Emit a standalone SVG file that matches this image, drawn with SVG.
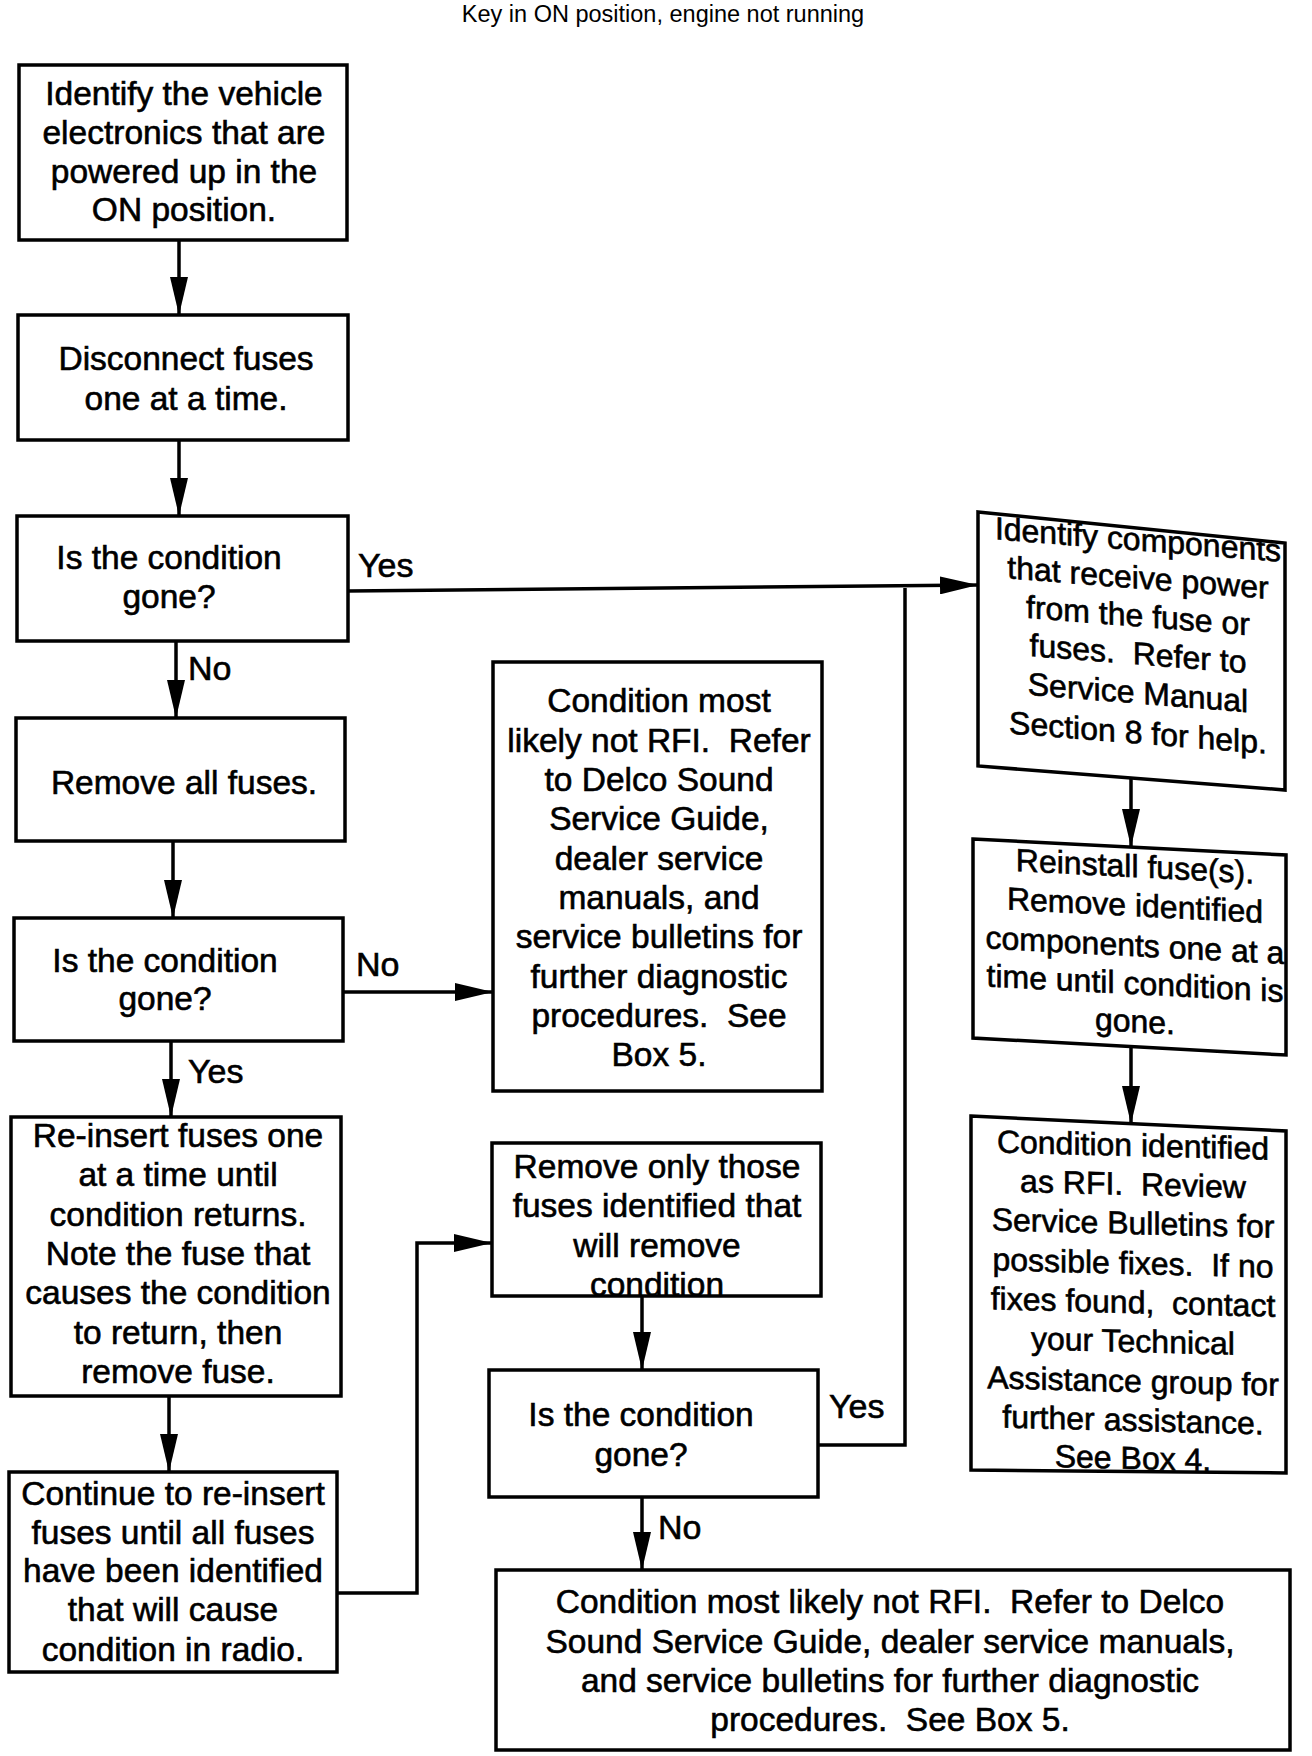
<svg xmlns="http://www.w3.org/2000/svg" width="1312" height="1756" viewBox="0 0 1312 1756">
<style>
.box{fill:#fff;stroke:#000;stroke-width:3.5}
.t{font-family:"Liberation Sans",Arial,Helvetica,sans-serif;font-size:33.5px;text-anchor:middle;fill:#000;stroke:#000;stroke-width:0.6}
.r{font-size:32px}
.lbl{font-family:"Liberation Sans",Arial,Helvetica,sans-serif;font-size:34px;fill:#000;stroke:#000;stroke-width:0.6}
.ttl{font-family:"Liberation Sans",Arial,Helvetica,sans-serif;font-size:23.5px;text-anchor:middle;fill:#000}
.c{fill:none;stroke:#000;stroke-width:3.5}
.ca{fill:none;stroke:#000;stroke-width:3.5;marker-end:url(#ah)}
</style>
<defs>
<marker id="ah" markerUnits="userSpaceOnUse" markerWidth="38" markerHeight="18" refX="38" refY="9" orient="auto" viewBox="0 0 38 18">
<path d="M0,0 L38,9 L0,18 z" fill="#000"/>
</marker>
</defs>
<rect width="1312" height="1756" fill="#fff"/>
<text class="ttl" x="663" y="22">Key in ON position, engine not running</text>

<g id="connectors">
<line class="ca" x1="179" y1="240" x2="179" y2="315"/>
<line class="ca" x1="179" y1="440" x2="179" y2="516"/>
<line class="ca" x1="176" y1="641" x2="176" y2="718"/>
<line class="ca" x1="173" y1="841" x2="173" y2="918"/>
<line class="ca" x1="171" y1="1041" x2="171" y2="1117"/>
<line class="ca" x1="169" y1="1396" x2="169" y2="1472"/>
<line class="ca" x1="348" y1="591" x2="978" y2="585"/>
<line class="ca" x1="343" y1="992" x2="493" y2="992"/>
<polyline class="ca" points="337,1593 417,1593 417,1243 492,1243"/>
<line class="ca" x1="642" y1="1296" x2="642" y2="1370"/>
<polyline class="c" points="818,1445 905,1445 905,588"/>
<line class="ca" x1="642" y1="1497" x2="642" y2="1570"/>
<line class="ca" x1="1131" y1="778" x2="1131" y2="847"/>
<line class="ca" x1="1131" y1="1047" x2="1131" y2="1124"/>
<text class="lbl" x="358" y="577">Yes</text>
<text class="lbl" x="188" y="680">No</text>
<text class="lbl" x="356" y="976">No</text>
<text class="lbl" x="188" y="1083">Yes</text>
<text class="lbl" x="829" y="1418">Yes</text>
<text class="lbl" x="658" y="1539">No</text>
</g>

<g id="n1">
<rect class="box" x="19" y="65" width="328" height="175"/>
<text class="t"><tspan x="184" y="105">Identify the vehicle</tspan><tspan x="184" y="144">electronics that are</tspan><tspan x="184" y="183">powered up in the</tspan><tspan x="184" y="221">ON position.</tspan></text>
</g>
<g id="n2">
<rect class="box" x="18" y="315" width="330" height="125"/>
<text class="t"><tspan x="186" y="370">Disconnect fuses</tspan><tspan x="186" y="410">one at a time.</tspan></text>
</g>
<g id="n3">
<rect class="box" x="17" y="516" width="331" height="125"/>
<text class="t"><tspan x="169" y="569">Is the condition</tspan><tspan x="169" y="608">gone?</tspan></text>
</g>
<g id="n4">
<rect class="box" x="16" y="718" width="329" height="123"/>
<text class="t" x="184" y="794">Remove all fuses.</text>
</g>
<g id="n5">
<rect class="box" x="14" y="918" width="329" height="123"/>
<text class="t"><tspan x="165" y="972">Is the condition</tspan><tspan x="165" y="1010">gone?</tspan></text>
</g>
<g id="n6">
<rect class="box" x="11" y="1117" width="330" height="279"/>
<text class="t"><tspan x="178" y="1147">Re-insert fuses one</tspan><tspan x="178" y="1186">at a time until</tspan><tspan x="178" y="1226">condition returns.</tspan><tspan x="178" y="1265">Note the fuse that</tspan><tspan x="178" y="1304">causes the condition</tspan><tspan x="178" y="1344">to return, then</tspan><tspan x="178" y="1383">remove fuse.</tspan></text>
</g>
<g id="n7">
<rect class="box" x="9" y="1472" width="328" height="200"/>
<text class="t"><tspan x="173" y="1505">Continue to re-insert</tspan><tspan x="173" y="1544">fuses until all fuses</tspan><tspan x="173" y="1582">have been identified</tspan><tspan x="173" y="1621">that will cause</tspan><tspan x="173" y="1661">condition in radio.</tspan></text>
</g>
<g id="n8">
<rect class="box" x="493" y="662" width="329" height="429"/>
<text class="t" xml:space="preserve"><tspan x="659" y="712">Condition most</tspan><tspan x="659" y="752">likely not RFI.  Refer</tspan><tspan x="659" y="791">to Delco Sound</tspan><tspan x="659" y="830">Service Guide,</tspan><tspan x="659" y="870">dealer service</tspan><tspan x="659" y="909">manuals, and</tspan><tspan x="659" y="948">service bulletins for</tspan><tspan x="659" y="988">further diagnostic</tspan><tspan x="659" y="1027">procedures.  See</tspan><tspan x="659" y="1066">Box 5.</tspan></text>
</g>
<g id="n9">
<rect class="box" x="492" y="1143" width="329" height="153"/>
<text class="t"><tspan x="657" y="1178">Remove only those</tspan><tspan x="657" y="1217">fuses identified that</tspan><tspan x="657" y="1257">will remove</tspan><tspan x="657" y="1296">condition</tspan></text>
</g>
<g id="n10">
<rect class="box" x="489" y="1370" width="329" height="127"/>
<text class="t"><tspan x="641" y="1426">Is the condition</tspan><tspan x="641" y="1466">gone?</tspan></text>
</g>
<g id="n11">
<rect class="box" x="496" y="1570" width="794" height="180"/>
<text class="t" xml:space="preserve"><tspan x="890" y="1613">Condition most likely not RFI.  Refer to Delco</tspan><tspan x="890" y="1653">Sound Service Guide, dealer service manuals,</tspan><tspan x="890" y="1692">and service bulletins for further diagnostic</tspan><tspan x="890" y="1731">procedures.  See Box 5.</tspan></text>
</g>
<g id="n12">
<polygon class="box" points="978,512 1285,543 1285,790 978,766"/>
<text class="t r" xml:space="preserve" transform="translate(1131,650) skewY(4.5) translate(-1131,-650)"><tspan x="1138" y="550">Identify components</tspan><tspan x="1138" y="588">that receive power</tspan><tspan x="1138" y="626">from the fuse or</tspan><tspan x="1138" y="664">fuses.  Refer to</tspan><tspan x="1138" y="703">Service Manual</tspan><tspan x="1138" y="743">Section 8 for help.</tspan></text>
</g>
<g id="n13">
<polygon class="box" points="973,839 1286,855 1286,1055 973,1038"/>
<text class="t r" transform="translate(1131,947) skewY(3) translate(-1131,-947)"><tspan x="1135" y="877">Reinstall fuse(s).</tspan><tspan x="1135" y="916">Remove identified</tspan><tspan x="1135" y="956">components one at a</tspan><tspan x="1135" y="994">time until condition is</tspan><tspan x="1135" y="1032">gone.</tspan></text>
</g>
<g id="n14">
<polygon class="box" points="971,1116 1286,1131 1286,1473 971,1470"/>
<text class="t r" xml:space="preserve" transform="translate(1131,1300) skewY(1.5) translate(-1131,-1300)"><tspan x="1133" y="1156">Condition identified</tspan><tspan x="1133" y="1195">as RFI.  Review</tspan><tspan x="1133" y="1234">Service Bulletins for</tspan><tspan x="1133" y="1274">possible fixes.  If no</tspan><tspan x="1133" y="1313">fixes found,  contact</tspan><tspan x="1133" y="1352">your Technical</tspan><tspan x="1133" y="1392">Assistance group for</tspan><tspan x="1133" y="1431">further assistance.</tspan><tspan x="1133" y="1469">See Box 4.</tspan></text>
</g>
</svg>
